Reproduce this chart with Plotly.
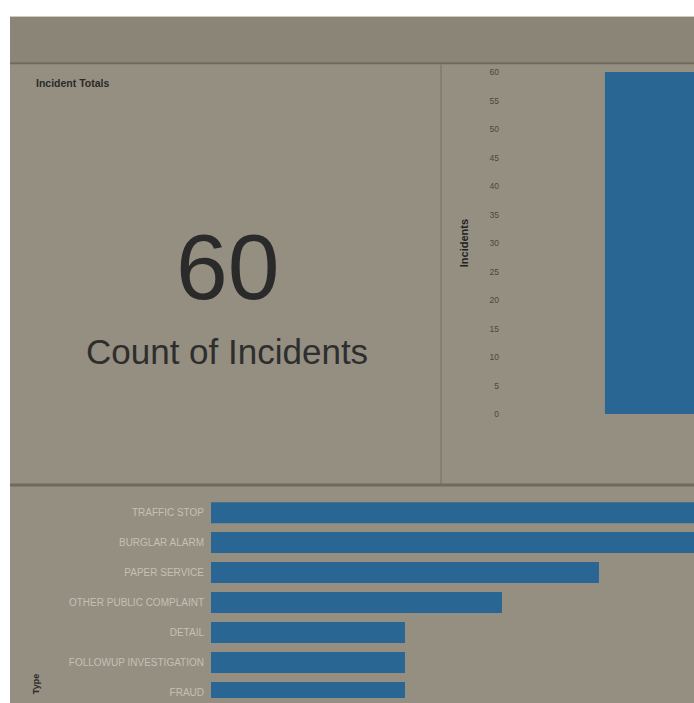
import plotly.graph_objects as go

# ---- data ----
total_incidents = 60
total_label = "Count of Incidents"
panel_title = "Incident Totals"

col_categories = ["Incidents"]
col_values = [60]
col_ticks = [0, 5, 10, 15, 20, 25, 30, 35, 40, 45, 50, 55, 60]

type_categories = ["TRAFFIC STOP", "BURGLAR ALARM", "PAPER SERVICE",
                   "OTHER PUBLIC COMPLAINT", "DETAIL", "FOLLOWUP INVESTIGATION", "FRAUD"]
type_values = [6, 5, 4, 3, 2, 2, 2]

W, H = 694, 703
def px(x):
    return x / W
def py(y):
    return 1 - y / H

PANEL = "#958f82"
BAND = "#8b8578"
LINE = "#6f6a60"
BAR = "#2a6694"
FONT = "Liberation Sans, Arial"

fig = go.Figure()

fig.add_trace(go.Bar(x=col_categories, y=col_values, marker=dict(color=BAR, line=dict(width=0)),
                     xaxis="x", yaxis="y", width=0.8, showlegend=False, hoverinfo="skip"))

fig.add_trace(go.Bar(y=type_categories, x=type_values, orientation="h",
                     marker=dict(color=BAR, line=dict(width=0)),
                     xaxis="x2", yaxis="y2", showlegend=False, hoverinfo="skip"))

shapes = [
    dict(type="rect", xref="paper", yref="paper", x0=0, x1=px(10), y0=-0.02, y1=1.02,
         fillcolor="white", line=dict(width=0), layer="below"),
    dict(type="rect", xref="paper", yref="paper", x0=0, x1=1.02, y0=py(12), y1=1.02,
         fillcolor="white", line=dict(width=0), layer="below"),
    dict(type="rect", xref="paper", yref="paper", x0=px(10), x1=1.02, y0=py(58), y1=py(12),
         fillcolor=BAND, line=dict(width=0), layer="below"),
    dict(type="line", xref="paper", yref="paper", x0=px(10), x1=1.02, y0=py(59), y1=py(59),
         line=dict(color=LINE, width=2), layer="below"),
    dict(type="line", xref="paper", yref="paper", x0=px(441), x1=px(441), y0=py(486), y1=py(60),
         line=dict(color="#857f73", width=2), layer="below"),
    dict(type="line", xref="paper", yref="paper", x0=px(10), x1=1.02, y0=py(487), y1=py(487),
         line=dict(color=LINE, width=3), layer="below"),
]

annotations = [
    dict(text="<b>" + panel_title + "</b>", x=px(34), y=py(79), xref="paper", yref="paper",
         xanchor="left", yanchor="middle", showarrow=False,
         font=dict(family=FONT, size=10.5, color="#2a2a2a")),
    dict(text=str(total_incidents), x=px(227), y=py(266), xref="paper", yref="paper",
         xanchor="center", yanchor="middle", showarrow=False,
         font=dict(family=FONT, size=93, color="#2a2a2a")),
    dict(text=total_label, x=px(227), y=py(352), xref="paper", yref="paper",
         xanchor="center", yanchor="middle", showarrow=False,
         font=dict(family=FONT, size=35, color="#2e2e2e")),
    dict(text="<b>Type</b>", x=px(36), y=py(689), xref="paper", yref="paper",
         xanchor="center", yanchor="middle", textangle=-90, showarrow=False,
         font=dict(family=FONT, size=9, color="#2a2a2a")),
]

fig.update_layout(
    width=W, height=H,
    margin=dict(l=0, r=0, t=0, b=0),
    paper_bgcolor=PANEL,
    plot_bgcolor="rgba(0,0,0,0)",
    shapes=shapes,
    annotations=annotations,
    bargap=0.3,
    hovermode=False,
    xaxis=dict(domain=[px(500), 1], anchor="y", range=[-1.107, 0.2],
               showticklabels=False, showgrid=False, zeroline=False, showline=False, ticks=""),
    yaxis=dict(domain=[py(415), py(68)], anchor="x", range=[0, 60],
               tickvals=col_ticks, ticktext=[str(t) for t in col_ticks],
               showgrid=False, zeroline=False, showline=False, ticks="",
               tickfont=dict(family=FONT, size=8.5, color="#4a4740"),
               title=dict(text="<b>Incidents</b>", standoff=18,
                          font=dict(family=FONT, size=11, color="#222"))),
    xaxis2=dict(domain=[px(211), 1], anchor="y2", range=[0, 4.98],
                showticklabels=False, showgrid=False, zeroline=False, showline=False, ticks=""),
    yaxis2=dict(domain=[0, py(490)], anchor="x2", range=[6.18, -0.82],
                categoryorder="array", categoryarray=type_categories,
                showgrid=False, zeroline=False, showline=False, ticks="", ticklen=0,
                ticklabelstandoff=6,
                tickfont=dict(family=FONT, size=10, color="#c4c0b6")),
)

fig.write_html("out.html", config={"displayModeBar": False},
               post_script="document.body.style.margin='0';document.body.style.overflow='hidden';")
